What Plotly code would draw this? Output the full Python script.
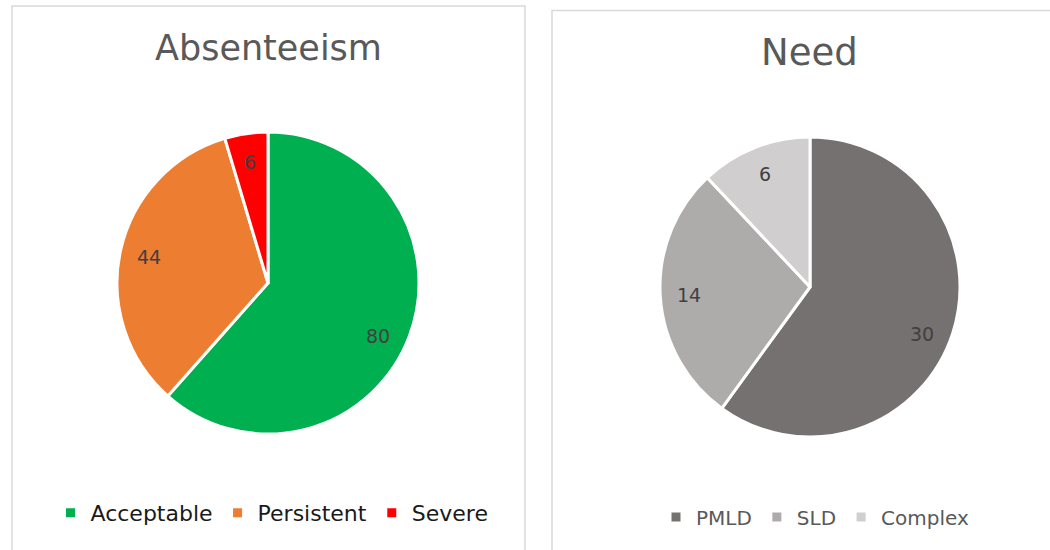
import math
import plotly.graph_objects as go

W, H = 1050, 550

abs_labels = ["Acceptable", "Persistent", "Severe"]
abs_values = [80, 44, 6]
abs_colors = ["#00B050", "#ED7D31", "#FF0000"]

need_labels = ["PMLD", "SLD", "Complex"]
need_values = [30, 14, 6]
need_colors = ["#767171", "#AEABAB", "#D0CECE"]

FONT = "DejaVu Sans"

# pie geometry in pixels (center x, center y from top, radius)
left_pie = (268, 283, 151)
right_pie = (810, 287, 150)


def domain(c):
    cx, cy, r = c
    return dict(x=[(cx - r) / W, (cx + r) / W], y=[(H - cy - r) / H, (H - cy + r) / H])


fig = go.Figure()
fig.add_trace(go.Pie(
    labels=abs_labels, values=abs_values, sort=False, direction="clockwise", rotation=0,
    marker=dict(colors=abs_colors, line=dict(color="white", width=3)),
    textinfo="none", domain=domain(left_pie), legend="legend", hoverinfo="label+value",
))
fig.add_trace(go.Pie(
    labels=need_labels, values=need_values, sort=False, direction="clockwise", rotation=0,
    marker=dict(colors=need_colors, line=dict(color="white", width=3)),
    textinfo="none", domain=domain(right_pie), legend="legend2", hoverinfo="label+value",
))

annotations = []


def add_value_labels(vals, geom):
    cx, cy, r = geom
    total = sum(vals)
    cum = 0
    for v in vals:
        frac = v / total
        mid = (cum + v / 2) / total * 2 * math.pi
        cum += v
        # larger slices: label sits slightly further clockwise, as in the source chart
        if frac > 0.5:
            mid += math.radians(5)
        px = cx + 0.81 * r * math.sin(mid)
        py = cy - 0.81 * r * math.cos(mid)
        annotations.append(dict(x=px / W, y=(H - py) / H, xref="paper", yref="paper",
                                xanchor="center", yanchor="middle",
                                text=str(v), showarrow=False,
                                font=dict(family=FONT, size=19, color="#404040")))


add_value_labels(abs_values, left_pie)
add_value_labels(need_values, right_pie)

annotations.append(dict(x=268 / W, y=(H - 48) / H, xref="paper", yref="paper", text="Absenteeism",
                        xanchor="center", yanchor="middle",
                        showarrow=False, font=dict(family=FONT, size=35, color="#595959")))
annotations.append(dict(x=809 / W, y=(H - 53) / H, xref="paper", yref="paper", text="Need",
                        xanchor="center", yanchor="middle",
                        showarrow=False, font=dict(family=FONT, size=37, color="#595959")))

shapes = [
    dict(type="rect", xref="paper", yref="paper", x0=12 / W, x1=525 / W, y0=-0.05, y1=(H - 6) / H,
         line=dict(color="#D9D9D9", width=1.5)),
    dict(type="rect", xref="paper", yref="paper", x0=552 / W, x1=1.05, y0=-0.05, y1=(H - 10.5) / H,
         line=dict(color="#D9D9D9", width=1.5)),
]

fig.update_layout(
    width=W, height=H, margin=dict(l=0, r=0, t=0, b=0),
    paper_bgcolor="white", plot_bgcolor="white",
    annotations=annotations, shapes=shapes,
    legend=dict(orientation="h", x=272 / W, xanchor="center", y=(H - 513) / H, yanchor="middle",
                font=dict(family=FONT, size=22, color="#1A1A1A"), itemwidth=30,
                bgcolor="rgba(0,0,0,0)"),
    legend2=dict(orientation="h", x=815 / W, xanchor="center", y=(H - 517) / H, yanchor="middle",
                 font=dict(family=FONT, size=20, color="#595959"), itemwidth=30,
                 bgcolor="rgba(0,0,0,0)"),
)

fig.write_html("out.html", config={"displayModeBar": False},
               post_script="document.body.style.margin='0';")
